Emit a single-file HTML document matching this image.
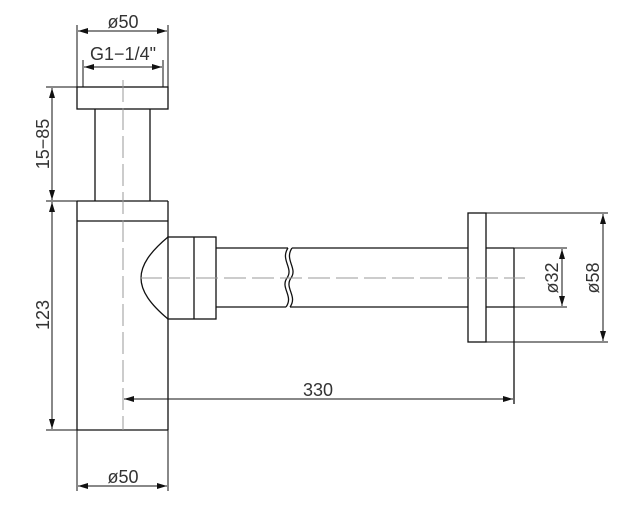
<!DOCTYPE html>
<html><head><meta charset="utf-8"><style>
html,body{margin:0;padding:0;background:#fff;}
svg{display:block;}
text{font-family:"Liberation Sans",sans-serif;font-size:18px;fill:#333;}
</style></head><body>
<svg width="631" height="528" viewBox="0 0 631 528" xmlns="http://www.w3.org/2000/svg">
<defs>
<marker id="a" viewBox="0 0 10 6" refX="10" refY="3" markerWidth="10" markerHeight="6" orient="auto-start-reverse" markerUnits="userSpaceOnUse"><path d="M0,0 L10,3 L0,6 z" fill="#111"/></marker>
</defs>
<g stroke="#111" stroke-width="1.3" fill="none">
<rect x="77" y="87" width="91" height="22"/>
<line x1="95" y1="109" x2="95" y2="201"/>
<line x1="150" y1="109" x2="150" y2="201"/>
<line x1="77" y1="201" x2="168" y2="201"/>
<line x1="77" y1="221" x2="168" y2="221"/>
<line x1="77" y1="201" x2="77" y2="430"/>
<line x1="168" y1="201" x2="168" y2="237"/>
<line x1="168" y1="319" x2="168" y2="430"/>
<line x1="77" y1="430" x2="168" y2="430"/>
<path d="M168,237 C150,252 141,265 141,278 C141,291 150,304 168,319"/>
<rect x="168" y="237" width="48" height="82"/>
<line x1="194" y1="237" x2="194" y2="319"/>
<line x1="216" y1="248" x2="288" y2="248"/>
<line x1="216" y1="307" x2="286" y2="307"/>
<line x1="292" y1="248" x2="468" y2="248"/>
<line x1="290" y1="307" x2="468" y2="307"/>
<path d="M288,248 C280,260 294,268 287,278 C280,288 294,296 286,307"/>
<path d="M292,248 C284,260 298,268 291,278 C284,288 298,296 290,307"/>
<rect x="468" y="213" width="18" height="129"/>
<line x1="486" y1="248" x2="514" y2="248"/>
<line x1="486" y1="307" x2="514" y2="307"/>
<line x1="514" y1="248" x2="514" y2="404"/>
</g>
<g stroke="#999" stroke-width="1" fill="none" stroke-dasharray="22,6">
<line x1="123" y1="80" x2="123" y2="430"/>
<line x1="140" y1="278" x2="525" y2="278"/>
</g>
<g stroke="#111" stroke-width="1" fill="none">
<line x1="77" y1="25" x2="77" y2="87"/><line x1="168" y1="25" x2="168" y2="87"/>
<line x1="78" y1="31" x2="167" y2="31" marker-start="url(#a)" marker-end="url(#a)"/>
<line x1="83" y1="60" x2="83" y2="87"/><line x1="163" y1="60" x2="163" y2="87"/>
<line x1="84" y1="67" x2="162" y2="67" marker-start="url(#a)" marker-end="url(#a)"/>
<line x1="46" y1="87" x2="77" y2="87"/><line x1="46" y1="201" x2="77" y2="201"/>
<line x1="52" y1="88" x2="52" y2="200" marker-start="url(#a)" marker-end="url(#a)"/>
<line x1="52" y1="202" x2="52" y2="429" marker-start="url(#a)" marker-end="url(#a)"/>
<line x1="46" y1="430" x2="77" y2="430"/>
<line x1="124" y1="399" x2="513" y2="399" marker-start="url(#a)" marker-end="url(#a)"/>
<line x1="77" y1="430" x2="77" y2="491"/><line x1="168" y1="430" x2="168" y2="491"/>
<line x1="78" y1="486" x2="167" y2="486" marker-start="url(#a)" marker-end="url(#a)"/>
<line x1="514" y1="248" x2="567" y2="248"/><line x1="514" y1="307" x2="567" y2="307"/>
<line x1="562" y1="249" x2="562" y2="306" marker-start="url(#a)" marker-end="url(#a)"/>
<line x1="486" y1="213" x2="608" y2="213"/><line x1="486" y1="342" x2="608" y2="342"/>
<line x1="603" y1="214" x2="603" y2="341" marker-start="url(#a)" marker-end="url(#a)"/>
</g>
<text x="123" y="28" text-anchor="middle">ø50</text>
<text x="123" y="60" text-anchor="middle">G1−1/4"</text>
<text x="123" y="483" text-anchor="middle">ø50</text>
<text x="318" y="396" text-anchor="middle">330</text>
<text transform="translate(49,144) rotate(-90)" text-anchor="middle">15−85</text>
<text transform="translate(49,315) rotate(-90)" text-anchor="middle">123</text>
<text transform="translate(558,278) rotate(-90)" text-anchor="middle">ø32</text>
<text transform="translate(599,278) rotate(-90)" text-anchor="middle">ø58</text>
</svg>
</body></html>
